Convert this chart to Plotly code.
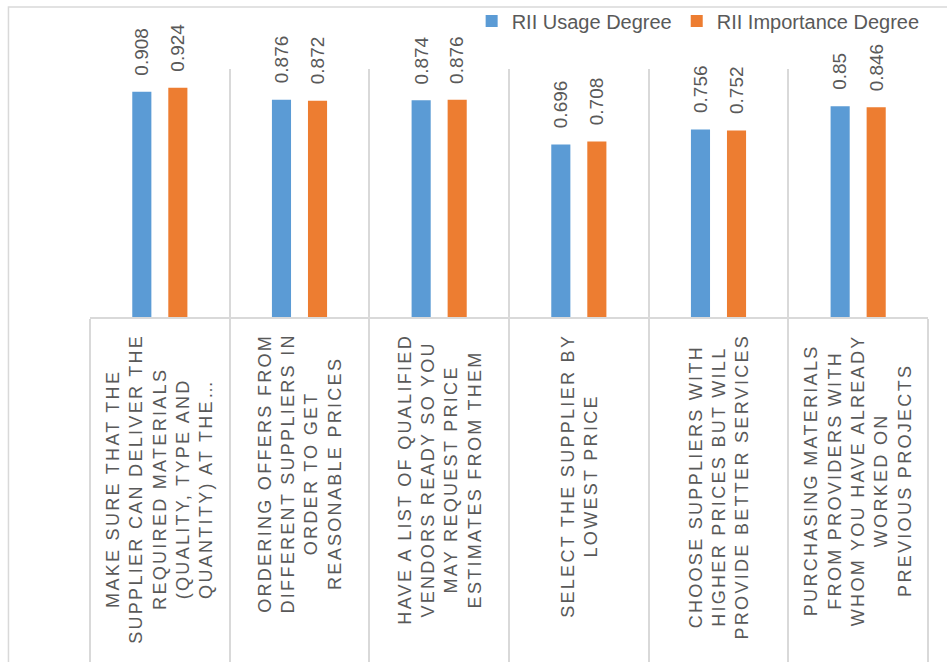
import plotly.graph_objects as go

categories = [
    "MAKE SURE THAT THE<br>SUPPLIER CAN DELIVER THE<br>REQUIRED MATERIALS<br>(QUALITY, TYPE AND<br>QUANTITY) AT THE…",
    "ORDERING OFFERS FROM<br>DIFFERENT SUPPLIERS IN<br>ORDER TO GET<br>REASONABLE PRICES",
    "HAVE A LIST OF QUALIFIED<br>VENDORS READY SO YOU<br>MAY REQUEST PRICE<br>ESTIMATES FROM THEM",
    "SELECT THE SUPPLIER BY<br>LOWEST PRICE",
    "CHOOSE SUPPLIERS WITH<br>HIGHER PRICES BUT WILL<br>PROVIDE BETTER SERVICES",
    "PURCHASING MATERIALS<br>FROM PROVIDERS WITH<br>WHOM YOU HAVE ALREADY<br>WORKED ON<br>PREVIOUS PROJECTS",
]
usage = [0.908, 0.876, 0.874, 0.696, 0.756, 0.85]
importance = [0.924, 0.872, 0.876, 0.708, 0.752, 0.846]
series_names = ["RII Usage Degree", "RII Importance Degree"]
colors = ["#5B9BD5", "#ED7D31"]

FONT = "Liberation Sans"
GRAY = "#595959"
LINE = "#D9D9D9"

fig = go.Figure()
for name, vals, col in zip(series_names, [usage, importance], colors):
    fig.add_trace(go.Bar(x=list(range(len(categories))), y=vals, name=name,
                         marker=dict(color=col, line=dict(width=0))))

annotations = []
for i, lab in enumerate(categories):
    annotations.append(dict(
        x=i, xref="x", y=0, yref="paper", yanchor="top", xanchor="center",
        yshift=-15, textangle=-90, align="center", showarrow=False,
        text='<span style="letter-spacing:2.3px">' + lab + "</span>",
        font=dict(family=FONT, size=18, color=GRAY)))
for vals, sh in [(usage, -18), (importance, 18)]:
    for i, v in enumerate(vals):
        annotations.append(dict(
            x=i, xref="x", y=v, yref="y", xshift=sh, yshift=14,
            yanchor="bottom", xanchor="center", textangle=-90, showarrow=False,
            text=("%g" % v), font=dict(family=FONT, size=19, color=GRAY)))

fig.update_layout(
    width=947, height=662,
    margin=dict(l=90, r=19, t=69, b=345, autoexpand=False),
    paper_bgcolor="white", plot_bgcolor="white",
    barmode="group", bargap=0.484, bargroupgap=0.47,
    showlegend=True,
    legend=dict(orientation="h", x=0.996, xanchor="right", y=1.1935, yanchor="middle",
                font=dict(family=FONT, size=20, color=GRAY), bgcolor="rgba(0,0,0,0)",
                traceorder="normal"),
    annotations=annotations,
    shapes=[dict(type="rect", xref="paper", yref="paper", x0=-0.0973, x1=1.2,
                 y0=-2.0, y1=1.25, line=dict(color=LINE, width=1.5), layer="below")],
)
fig.update_xaxes(type="category", tickson="boundaries", ticks="outside", ticklen=360,
                 tickcolor=LINE, tickwidth=1.5, showgrid=True, gridcolor=LINE, gridwidth=1.5,
                 showline=True, linecolor=LINE, linewidth=1.5, showticklabels=False,
                 range=[-0.5, 5.5], fixedrange=True, automargin=False)
fig.update_yaxes(range=[0, 1], visible=False, showgrid=False, zeroline=False, automargin=False)

fig.write_html("out.html")
